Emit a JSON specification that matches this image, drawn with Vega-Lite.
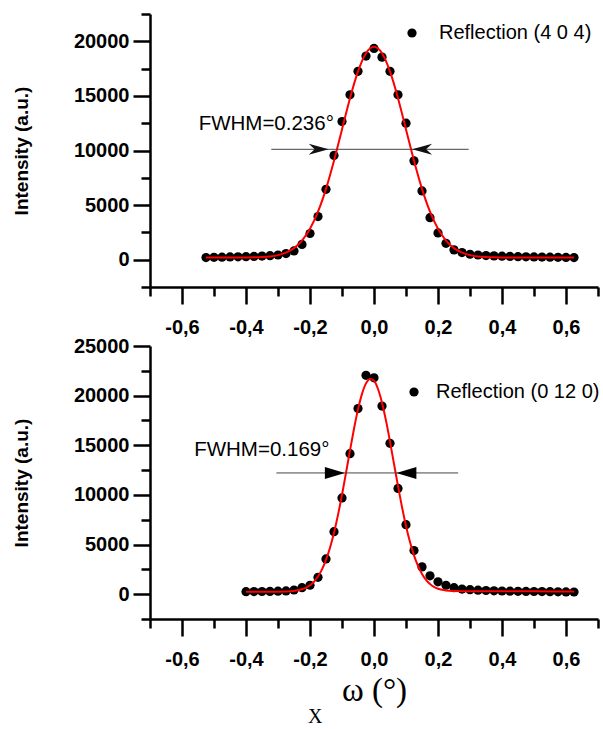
{
  "$schema": "https://vega.github.io/schema/vega-lite/v6.json",
  "padding": {"left": 12, "top": 12, "right": 0, "bottom": 0},
  "background": "white",
  "spacing": -1,
  "datasets": {
    "topPts": [
      {"x": -0.525, "y": 200, "s": "Reflection (4 0 4)"},
      {"x": -0.5, "y": 220, "s": "Reflection (4 0 4)"},
      {"x": -0.475, "y": 230, "s": "Reflection (4 0 4)"},
      {"x": -0.45, "y": 250, "s": "Reflection (4 0 4)"},
      {"x": -0.425, "y": 260, "s": "Reflection (4 0 4)"},
      {"x": -0.4, "y": 280, "s": "Reflection (4 0 4)"},
      {"x": -0.375, "y": 300, "s": "Reflection (4 0 4)"},
      {"x": -0.35, "y": 330, "s": "Reflection (4 0 4)"},
      {"x": -0.325, "y": 370, "s": "Reflection (4 0 4)"},
      {"x": -0.3, "y": 430, "s": "Reflection (4 0 4)"},
      {"x": -0.275, "y": 560, "s": "Reflection (4 0 4)"},
      {"x": -0.25, "y": 800, "s": "Reflection (4 0 4)"},
      {"x": -0.225, "y": 1400, "s": "Reflection (4 0 4)"},
      {"x": -0.2, "y": 2400, "s": "Reflection (4 0 4)"},
      {"x": -0.175, "y": 3950, "s": "Reflection (4 0 4)"},
      {"x": -0.15, "y": 6450, "s": "Reflection (4 0 4)"},
      {"x": -0.125, "y": 9550, "s": "Reflection (4 0 4)"},
      {"x": -0.1, "y": 12650, "s": "Reflection (4 0 4)"},
      {"x": -0.075, "y": 15100, "s": "Reflection (4 0 4)"},
      {"x": -0.05, "y": 17250, "s": "Reflection (4 0 4)"},
      {"x": -0.025, "y": 18650, "s": "Reflection (4 0 4)"},
      {"x": 0, "y": 19350, "s": "Reflection (4 0 4)"},
      {"x": 0.025, "y": 18550, "s": "Reflection (4 0 4)"},
      {"x": 0.05, "y": 17250, "s": "Reflection (4 0 4)"},
      {"x": 0.075, "y": 15100, "s": "Reflection (4 0 4)"},
      {"x": 0.1, "y": 12500, "s": "Reflection (4 0 4)"},
      {"x": 0.125, "y": 9050, "s": "Reflection (4 0 4)"},
      {"x": 0.15, "y": 6300, "s": "Reflection (4 0 4)"},
      {"x": 0.175, "y": 3850, "s": "Reflection (4 0 4)"},
      {"x": 0.2, "y": 2450, "s": "Reflection (4 0 4)"},
      {"x": 0.225, "y": 1500, "s": "Reflection (4 0 4)"},
      {"x": 0.25, "y": 900, "s": "Reflection (4 0 4)"},
      {"x": 0.275, "y": 650, "s": "Reflection (4 0 4)"},
      {"x": 0.3, "y": 500, "s": "Reflection (4 0 4)"},
      {"x": 0.325, "y": 430, "s": "Reflection (4 0 4)"},
      {"x": 0.35, "y": 380, "s": "Reflection (4 0 4)"},
      {"x": 0.375, "y": 350, "s": "Reflection (4 0 4)"},
      {"x": 0.4, "y": 320, "s": "Reflection (4 0 4)"},
      {"x": 0.425, "y": 300, "s": "Reflection (4 0 4)"},
      {"x": 0.45, "y": 280, "s": "Reflection (4 0 4)"},
      {"x": 0.475, "y": 260, "s": "Reflection (4 0 4)"},
      {"x": 0.5, "y": 250, "s": "Reflection (4 0 4)"},
      {"x": 0.525, "y": 240, "s": "Reflection (4 0 4)"},
      {"x": 0.55, "y": 230, "s": "Reflection (4 0 4)"},
      {"x": 0.575, "y": 220, "s": "Reflection (4 0 4)"},
      {"x": 0.6, "y": 210, "s": "Reflection (4 0 4)"},
      {"x": 0.625, "y": 200, "s": "Reflection (4 0 4)"}
    ],
    "topFit": [
      {"x": -0.525, "y": 200}, {"x": -0.5, "y": 200}, {"x": -0.475, "y": 200}, {"x": -0.45, "y": 201},
      {"x": -0.425, "y": 203}, {"x": -0.4, "y": 207}, {"x": -0.375, "y": 218}, {"x": -0.35, "y": 243},
      {"x": -0.325, "y": 300}, {"x": -0.3, "y": 417}, {"x": -0.275, "y": 646}, {"x": -0.25, "y": 1058},
      {"x": -0.225, "y": 1752}, {"x": -0.2, "y": 2833}, {"x": -0.175, "y": 4400}, {"x": -0.15, "y": 6490},
      {"x": -0.125, "y": 9060}, {"x": -0.1, "y": 11930}, {"x": -0.075, "y": 14790}, {"x": -0.05, "y": 17240},
      {"x": -0.025, "y": 18910}, {"x": 0, "y": 19500}, {"x": 0.025, "y": 18910}, {"x": 0.05, "y": 17240},
      {"x": 0.075, "y": 14790}, {"x": 0.1, "y": 11930}, {"x": 0.125, "y": 9060}, {"x": 0.15, "y": 6490},
      {"x": 0.175, "y": 4400}, {"x": 0.2, "y": 2833}, {"x": 0.225, "y": 1752}, {"x": 0.25, "y": 1058},
      {"x": 0.275, "y": 646}, {"x": 0.3, "y": 417}, {"x": 0.325, "y": 300}, {"x": 0.35, "y": 243},
      {"x": 0.375, "y": 218}, {"x": 0.4, "y": 207}, {"x": 0.425, "y": 203}, {"x": 0.45, "y": 201},
      {"x": 0.5, "y": 200}, {"x": 0.55, "y": 200}, {"x": 0.6, "y": 200}, {"x": 0.625, "y": 200}
    ],
    "botPts": [
      {"x": -0.4, "y": 250, "s": "Reflection (0 12 0)"},
      {"x": -0.375, "y": 260, "s": "Reflection (0 12 0)"},
      {"x": -0.35, "y": 270, "s": "Reflection (0 12 0)"},
      {"x": -0.325, "y": 280, "s": "Reflection (0 12 0)"},
      {"x": -0.3, "y": 300, "s": "Reflection (0 12 0)"},
      {"x": -0.275, "y": 330, "s": "Reflection (0 12 0)"},
      {"x": -0.25, "y": 420, "s": "Reflection (0 12 0)"},
      {"x": -0.225, "y": 650, "s": "Reflection (0 12 0)"},
      {"x": -0.2, "y": 900, "s": "Reflection (0 12 0)"},
      {"x": -0.175, "y": 1700, "s": "Reflection (0 12 0)"},
      {"x": -0.15, "y": 3550, "s": "Reflection (0 12 0)"},
      {"x": -0.125, "y": 6300, "s": "Reflection (0 12 0)"},
      {"x": -0.1, "y": 9700, "s": "Reflection (0 12 0)"},
      {"x": -0.075, "y": 14150, "s": "Reflection (0 12 0)"},
      {"x": -0.05, "y": 18700, "s": "Reflection (0 12 0)"},
      {"x": -0.025, "y": 22050, "s": "Reflection (0 12 0)"},
      {"x": 0, "y": 21800, "s": "Reflection (0 12 0)"},
      {"x": 0.025, "y": 18950, "s": "Reflection (0 12 0)"},
      {"x": 0.05, "y": 15200, "s": "Reflection (0 12 0)"},
      {"x": 0.075, "y": 10650, "s": "Reflection (0 12 0)"},
      {"x": 0.1, "y": 7000, "s": "Reflection (0 12 0)"},
      {"x": 0.125, "y": 4400, "s": "Reflection (0 12 0)"},
      {"x": 0.15, "y": 2750, "s": "Reflection (0 12 0)"},
      {"x": 0.175, "y": 1850, "s": "Reflection (0 12 0)"},
      {"x": 0.2, "y": 1250, "s": "Reflection (0 12 0)"},
      {"x": 0.225, "y": 900, "s": "Reflection (0 12 0)"},
      {"x": 0.25, "y": 650, "s": "Reflection (0 12 0)"},
      {"x": 0.275, "y": 520, "s": "Reflection (0 12 0)"},
      {"x": 0.3, "y": 450, "s": "Reflection (0 12 0)"},
      {"x": 0.325, "y": 400, "s": "Reflection (0 12 0)"},
      {"x": 0.35, "y": 370, "s": "Reflection (0 12 0)"},
      {"x": 0.375, "y": 340, "s": "Reflection (0 12 0)"},
      {"x": 0.4, "y": 320, "s": "Reflection (0 12 0)"},
      {"x": 0.425, "y": 300, "s": "Reflection (0 12 0)"},
      {"x": 0.45, "y": 290, "s": "Reflection (0 12 0)"},
      {"x": 0.475, "y": 280, "s": "Reflection (0 12 0)"},
      {"x": 0.5, "y": 270, "s": "Reflection (0 12 0)"},
      {"x": 0.525, "y": 260, "s": "Reflection (0 12 0)"},
      {"x": 0.55, "y": 250, "s": "Reflection (0 12 0)"},
      {"x": 0.575, "y": 240, "s": "Reflection (0 12 0)"},
      {"x": 0.6, "y": 230, "s": "Reflection (0 12 0)"},
      {"x": 0.625, "y": 220, "s": "Reflection (0 12 0)"}
    ],
    "botFit": [
      {"x": -0.4, "y": 250}, {"x": -0.35, "y": 250}, {"x": -0.325, "y": 251}, {"x": -0.3, "y": 256},
      {"x": -0.275, "y": 274}, {"x": -0.25, "y": 330}, {"x": -0.225, "y": 491}, {"x": -0.2, "y": 895},
      {"x": -0.1875, "y": 1256}, {"x": -0.175, "y": 1776}, {"x": -0.1625, "y": 2494}, {"x": -0.15, "y": 3448},
      {"x": -0.1375, "y": 4677}, {"x": -0.125, "y": 6190}, {"x": -0.1125, "y": 7985}, {"x": -0.1, "y": 10020},
      {"x": -0.0875, "y": 12223}, {"x": -0.075, "y": 14482}, {"x": -0.0625, "y": 16663}, {"x": -0.05, "y": 18616},
      {"x": -0.0375, "y": 20181}, {"x": -0.025, "y": 21237}, {"x": -0.0125, "y": 21687}, {"x": 0, "y": 21492},
      {"x": 0.0125, "y": 20670}, {"x": 0.025, "y": 19295}, {"x": 0.0375, "y": 17481}, {"x": 0.05, "y": 15372},
      {"x": 0.0625, "y": 13126}, {"x": 0.075, "y": 10885}, {"x": 0.0875, "y": 8774}, {"x": 0.1, "y": 6876},
      {"x": 0.1125, "y": 5248}, {"x": 0.125, "y": 3907}, {"x": 0.1375, "y": 2845}, {"x": 0.15, "y": 2037},
      {"x": 0.1625, "y": 1443}, {"x": 0.175, "y": 1022}, {"x": 0.1875, "y": 736}, {"x": 0.2, "y": 546},
      {"x": 0.225, "y": 380}, {"x": 0.25, "y": 320}, {"x": 0.275, "y": 300}, {"x": 0.3, "y": 295},
      {"x": 0.4, "y": 290}, {"x": 0.5, "y": 285}, {"x": 0.625, "y": 280}
    ],
    "topAnno": [{"x": -0.548, "y": 12390, "label": "FWHM=0.236°"}],
    "topRule": [{"x": -0.321, "x2": 0.296, "y": 10110}],
    "topHeads": [
      {"x": -0.1416, "y": 10110, "dir": "right"},
      {"x": 0.119, "y": 10110, "dir": "left"}
    ],
    "botAnno": [{"x": -0.562, "y": 14490, "label": "FWHM=0.169°"}],
    "botRule": [{"x": -0.305, "x2": 0.263, "y": 12213}],
    "botHeads": [
      {"x": -0.091, "y": 12213, "dir": "right"},
      {"x": 0.07, "y": 12213, "dir": "left"}
    ],
    "extra": [{"x": -0.184, "y": -12400, "label": "X"}]
  },
  "resolve": {"scale": {"color": "independent", "shape": "independent"}, "legend": {"color": "independent"}},
  "vconcat": [
    {
      "width": 448,
      "height": 273,
      "resolve": {"scale": {"shape": "independent"}, "axis": {"x": "independent", "y": "independent"}},
      "layer": [
        {
          "data": {"name": "topPts"},
          "mark": {"type": "point", "filled": true, "size": 85, "opacity": 1},
          "encoding": {
            "x": {"field": "x", "type": "quantitative", "scale": {"domain": [-0.7, 0.7], "nice": false, "zero": false},
              "axis": {"orient": "bottom", "title": null, "values": [-0.6, -0.4, -0.2, 0, 0.2, 0.4, 0.6], "format": ".1f",
                "labelExpr": "replace(replace(datum.label, '.', ','), '\u2212', '-')",
                "tickSize": 17, "labelPadding": 13}},
            "y": {"field": "y", "type": "quantitative", "scale": {"domain": [-2500, 22500], "nice": false, "zero": false},
              "axis": {"orient": "left", "title": "Intensity (a.u.)", "values": [0, 5000, 10000, 15000, 20000], "format": "d",
                "tickSize": 17, "labelPadding": 4, "titlePadding": 42}},
            "color": {"field": "s", "type": "nominal", "scale": {"range": ["black"]},
              "legend": {"orient": "none", "legendX": 252, "legendY": 9, "title": null, "padding": 0, "labelLimit": 0,
                "symbolType": "circle", "symbolSize": 85, "symbolStrokeWidth": 0, "symbolFillColor": "black",
                "labelFont": "Liberation Sans", "labelFontSize": 20, "labelColor": "black", "labelOffset": 17}}
          }
        },
        {
          "data": {"name": "topFit"},
          "mark": {"type": "line", "color": "#ff0000", "strokeWidth": 2, "interpolate": "monotone"},
          "encoding": {
            "x": {"field": "x", "type": "quantitative",
              "axis": {"orient": "bottom", "title": null, "values": [-0.7, -0.5, -0.3, -0.1, 0.1, 0.3, 0.5, 0.7], "labels": false, "domain": false, "tickSize": 9}},
            "y": {"field": "y", "type": "quantitative",
              "axis": {"orient": "left", "title": null, "values": [-2500, 2500, 7500, 12500, 17500, 22500], "labels": false, "domain": false, "tickSize": 9}}
          }
        },
        {
          "data": {"name": "topRule"},
          "mark": {"type": "rule", "color": "#444444", "strokeWidth": 1},
          "encoding": {"x": {"field": "x", "type": "quantitative", "axis": null}, "x2": {"field": "x2"}, "y": {"field": "y", "type": "quantitative", "axis": null}}
        },
        {
          "data": {"name": "topHeads"},
          "mark": {"type": "point", "filled": true, "size": 100, "opacity": 1, "color": "#111111"},
          "encoding": {"x": {"field": "x", "type": "quantitative", "axis": null}, "y": {"field": "y", "type": "quantitative", "axis": null},
            "shape": {"field": "dir", "type": "nominal", "legend": null,
              "scale": {"domain": ["right", "left"], "range": ["M0,0L-4,-1.1L-2.8,0L-4,1.1Z", "M0,0L4,-1.1L2.8,0L4,1.1Z"]}}}
        },
        {
          "data": {"name": "topAnno"},
          "mark": {"type": "text", "align": "left", "baseline": "middle", "font": "Liberation Sans", "fontSize": 20.5, "color": "black"},
          "encoding": {"x": {"field": "x", "type": "quantitative", "axis": null}, "y": {"field": "y", "type": "quantitative", "axis": null}, "text": {"field": "label"}}
        }
      ]
    },
    {
      "width": 448,
      "height": 273,
      "resolve": {"scale": {"shape": "independent"}, "axis": {"x": "independent", "y": "independent"}},
      "layer": [
        {
          "data": {"name": "botPts"},
          "mark": {"type": "point", "filled": true, "size": 85, "opacity": 1},
          "encoding": {
            "x": {"field": "x", "type": "quantitative", "scale": {"domain": [-0.7, 0.7], "nice": false, "zero": false},
              "axis": {"orient": "bottom", "title": "ω (°)", "values": [-0.6, -0.4, -0.2, 0, 0.2, 0.4, 0.6], "format": ".1f",
                "labelExpr": "replace(replace(datum.label, '.', ','), '\u2212', '-')",
                "tickSize": 17, "labelPadding": 13, "titleFont": "Liberation Serif", "titleFontWeight": "normal", "titleFontSize": 33, "titlePadding": 5}},
            "y": {"field": "y", "type": "quantitative", "scale": {"domain": [-2500, 25000], "nice": false, "zero": false},
              "axis": {"orient": "left", "title": "Intensity (a.u.)", "values": [0, 5000, 10000, 15000, 20000, 25000], "format": "d",
                "tickSize": 17, "labelPadding": 4, "titlePadding": 42}},
            "color": {"field": "s", "type": "nominal", "scale": {"range": ["black"]},
              "legend": {"orient": "none", "legendX": 254, "legendY": 36, "title": null, "padding": 0, "labelLimit": 0,
                "symbolType": "circle", "symbolSize": 85, "symbolStrokeWidth": 0, "symbolFillColor": "black",
                "labelFont": "Liberation Sans", "labelFontSize": 20, "labelColor": "black", "labelOffset": 12}}
          }
        },
        {
          "data": {"name": "botFit"},
          "mark": {"type": "line", "color": "#ff0000", "strokeWidth": 2, "interpolate": "monotone"},
          "encoding": {
            "x": {"field": "x", "type": "quantitative",
              "axis": {"orient": "bottom", "title": null, "values": [-0.7, -0.5, -0.3, -0.1, 0.1, 0.3, 0.5, 0.7], "labels": false, "domain": false, "tickSize": 9}},
            "y": {"field": "y", "type": "quantitative",
              "axis": {"orient": "left", "title": null, "values": [-2500, 2500, 7500, 12500, 17500, 22500], "labels": false, "domain": false, "tickSize": 9}}
          }
        },
        {
          "data": {"name": "botRule"},
          "mark": {"type": "rule", "color": "#444444", "strokeWidth": 1},
          "encoding": {"x": {"field": "x", "type": "quantitative", "axis": null}, "x2": {"field": "x2"}, "y": {"field": "y", "type": "quantitative", "axis": null}}
        },
        {
          "data": {"name": "botHeads"},
          "mark": {"type": "point", "filled": true, "size": 100, "opacity": 1, "color": "#000000"},
          "encoding": {"x": {"field": "x", "type": "quantitative", "axis": null}, "y": {"field": "y", "type": "quantitative", "axis": null},
            "shape": {"field": "dir", "type": "nominal", "legend": null,
              "scale": {"domain": ["right", "left"], "range": ["M0,0L-4,-1.2L-4,1.2Z", "M0,0L4,-1.2L4,1.2Z"]}}}
        },
        {
          "data": {"name": "botAnno"},
          "mark": {"type": "text", "align": "left", "baseline": "middle", "font": "Liberation Sans", "fontSize": 20.5, "color": "black"},
          "encoding": {"x": {"field": "x", "type": "quantitative", "axis": null}, "y": {"field": "y", "type": "quantitative", "axis": null}, "text": {"field": "label"}}
        },
        {
          "data": {"name": "extra"},
          "mark": {"type": "text", "align": "center", "baseline": "middle", "font": "Liberation Serif", "fontSize": 20, "color": "black"},
          "encoding": {"x": {"field": "x", "type": "quantitative", "axis": null}, "y": {"field": "y", "type": "quantitative", "axis": null}, "text": {"field": "label"}}
        }
      ]
    }
  ],
  "config": {
    "view": {"stroke": null},
    "axis": {
      "grid": false,
      "domainColor": "black",
      "domainWidth": 2.5,
      "tickColor": "black",
      "tickWidth": 2.5,
      "labelFont": "Liberation Sans",
      "labelFontWeight": "bold",
      "labelFontSize": 20,
      "labelColor": "black",
      "labelOverlap": false,
      "labelFlush": false,
      "titleFont": "Liberation Sans",
      "titleFontWeight": "bold",
      "titleFontSize": 19,
      "titleColor": "black"
    }
  }
}
